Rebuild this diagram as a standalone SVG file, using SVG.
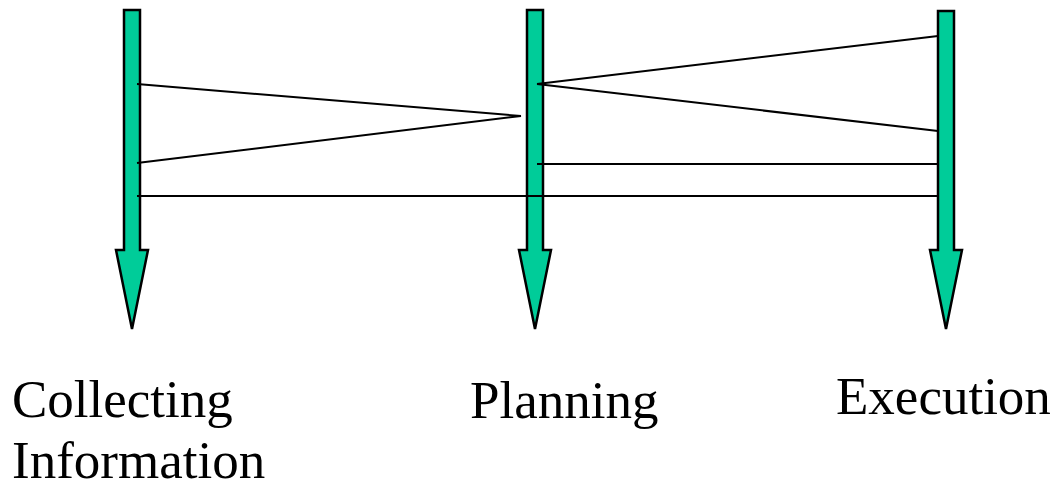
<svg xmlns="http://www.w3.org/2000/svg" width="1056" height="483" viewBox="0 0 1056 483">
<style>
.arrow{fill:#00cc99;stroke:#000;stroke-width:2.5;stroke-linejoin:miter}
.conn{stroke:#000;stroke-width:2;fill:none}
.lbl{font-family:"Liberation Serif","Times New Roman",serif;font-size:53px;fill:#000}
</style>
<rect width="1056" height="483" fill="#fff"/>
<g id="collecting">
<polygon class="arrow" points="124,10 140,10 140,250 148,250 132,329 116,250 124,250"/>
<text class="lbl" x="12" y="417">Collecting</text>
<text class="lbl" x="12" y="478">Information</text>
</g>
<g id="planning">
<polygon class="arrow" points="527,10 543,10 543,250 551,250 535,329 519,250 527,250"/>
<text class="lbl" x="470" y="418">Planning</text>
</g>
<g id="execution">
<polygon class="arrow" points="938,11 954,11 954,250 962,250 946,329 930,250 938,250"/>
<text class="lbl" x="836" y="414">Execution</text>
</g>
<g id="connectors">
<line class="conn" x1="137" y1="84" x2="521" y2="116"/>
<line class="conn" x1="137" y1="163" x2="521" y2="116"/>
<line class="conn" x1="537" y1="84" x2="938" y2="36"/>
<line class="conn" x1="537" y1="84" x2="938" y2="131"/>
<line class="conn" x1="537" y1="164" x2="938" y2="164"/>
<line class="conn" x1="137" y1="196" x2="938" y2="196"/>
</g>
</svg>
